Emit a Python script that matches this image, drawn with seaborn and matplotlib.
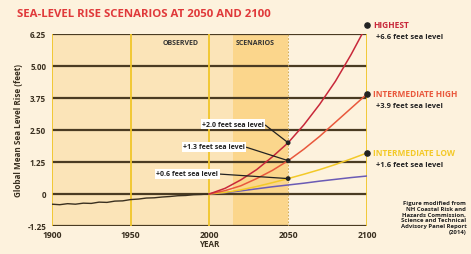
import matplotlib
matplotlib.use("Agg")
import matplotlib.pyplot as plt
import seaborn as sns

sns.set_theme(style="white")
plt.rcParams["font.family"] = ["Open Sans", "DejaVu Sans"]

# ── data
obs_year = [1900, 1905, 1910, 1915, 1920, 1925, 1930, 1935, 1940, 1945, 1950,
            1955, 1960, 1965, 1970, 1975, 1980, 1985, 1990, 1995, 2000]
obs_rise = [-0.40, -0.42, -0.38, -0.40, -0.36, -0.37, -0.32, -0.33, -0.28, -0.27, -0.22,
            -0.20, -0.16, -0.15, -0.12, -0.10, -0.07, -0.06, -0.03, -0.02, 0.00]

scn_year = [2000, 2010, 2020, 2030, 2040, 2050, 2060, 2070, 2080, 2090, 2100]
highest  = [0.00, 0.22, 0.55, 0.95, 1.45, 2.00, 2.70, 3.50, 4.40, 5.45, 6.60]
int_high = [0.00, 0.13, 0.32, 0.60, 0.92, 1.30, 1.75, 2.25, 2.80, 3.35, 3.90]
int_low  = [0.00, 0.06, 0.16, 0.29, 0.44, 0.60, 0.77, 0.95, 1.15, 1.37, 1.60]
lowest   = [0.00, 0.05, 0.12, 0.20, 0.28, 0.35, 0.42, 0.50, 0.57, 0.64, 0.70]

y_ticks = [-1.25, 0, 1.25, 2.50, 3.75, 5.00, 6.25]
y_tick_labels = ["-1.25", "0", "1.25", "2.50", "3.75", "5.00", "6.25"]
x_ticks = [1900, 1950, 2000, 2050, 2100]

mid_labels = ["+2.0 feet sea level", "+1.3 feet sea level", "+0.6 feet sea level"]
mid_values = [highest[5], int_high[5], int_low[5]]

end_names = ["HIGHEST", "INTERMEDIATE HIGH", "INTERMEDIATE LOW"]
end_texts = ["+6.6 feet sea level", "+3.9 feet sea level", "+1.6 feet sea level"]
end_values = [highest[-1], int_high[-1], int_low[-1]]

BG = "#fdf2dd"
RED = "#c8283a"
ORANGE = "#e9583c"
YELLOW = "#f3c928"
PURPLE = "#6b5bb5"
GRID = "#4a3b22"
VLINE = "#f0c52a"

fig = plt.figure(figsize=(4.71, 2.55), dpi=100, facecolor=BG)
ax = fig.add_axes([0.110, 0.110, 0.669, 0.753])
ax.set_facecolor(BG)
ax.set_xlim(1900, 2100)
ax.set_ylim(-1.25, 6.25)

# shading
ax.axvspan(1900, 2015, color="#fbe4b8", zorder=0, lw=0)
ax.axvspan(2015, 2050, color="#fbd68c", zorder=0, lw=0)

# grid
for v in y_ticks:
    ax.axhline(v, color=GRID, lw=1.6, zorder=1)
for v in [1900, 1950, 2000, 2100]:
    ax.axvline(v, color=VLINE, lw=1.3, zorder=1.5)
ax.axvline(2050, color="#c9a040", lw=0.6, ls=(0, (2, 2)), zorder=1.5)

# lines
sns.lineplot(x=obs_year, y=obs_rise, ax=ax, color="#3a3020", lw=1.0, zorder=3)
for vals, col in [(lowest, PURPLE), (int_low, YELLOW), (int_high, ORANGE), (highest, RED)]:
    sns.lineplot(x=scn_year, y=vals, ax=ax, color=col, lw=1.1, zorder=3)

# markers at 2050 and 2100
sns.scatterplot(x=[2050] * 3, y=mid_values, ax=ax, color="#222222", s=12, zorder=5,
                edgecolor="none")
ax.scatter([2100] * 3, end_values, color="#222222", s=14, zorder=5, clip_on=False)

# mid annotations
text_pos = [(2015, 2.73), (2003, 1.84), (1986, 0.78)]
for lab, val, (tx, ty) in zip(mid_labels, mid_values, text_pos):
    ax.annotate(lab, xy=(2050, val), xytext=(tx, ty), fontsize=5.0, fontweight="bold",
                color="#222222", ha="center", va="center", zorder=6,
                bbox=dict(boxstyle="square,pad=0.2", fc="white", ec="none"),
                arrowprops=dict(arrowstyle="-", color="#222222", lw=0.9,
                                shrinkA=0, shrinkB=0, relpos=(1, 0.5)))

# end labels
name_cols = [RED, ORANGE, YELLOW]
for name, txt, val, col in zip(end_names, end_texts, end_values, name_cols):
    ax.text(2104, val + 0.02, name, fontsize=6.0, fontweight="bold", color=col,
            ha="left", va="center", clip_on=False)
    ax.text(2106, val - 0.45, txt, fontsize=5.4, fontweight="bold", color="#222222",
            ha="left", va="center", clip_on=False)

ax.text(1982, 5.9, "OBSERVED", fontsize=5.0, fontweight="bold", color="#333333",
        ha="center", va="center")
ax.text(2029, 5.9, "SCENARIOS", fontsize=5.0, fontweight="bold", color="#333333",
        ha="center", va="center")

# axes
ax.set_yticks(y_ticks)
ax.set_yticklabels(y_tick_labels)
ax.set_xticks(x_ticks)
ax.tick_params(axis="y", length=3, width=0.8, color=GRID, labelsize=5.8, pad=1)
ax.tick_params(axis="x", length=0, labelsize=6.2, pad=3)
for t in ax.get_xticklabels() + ax.get_yticklabels():
    t.set_fontweight("bold")
    t.set_color("#3a3020")
for s in ax.spines.values():
    s.set_visible(False)
ax.set_xlabel("YEAR", fontsize=5.8, fontweight="bold", color="#3a3020", labelpad=0)
ax.set_ylabel("Global Mean Sea Level Rise (feet)", fontsize=5.9, fontweight="bold",
              color="#3a3020", labelpad=3)

fig.text(0.036, 0.945, "SEA-LEVEL RISE SCENARIOS AT 2050 AND 2100", fontsize=8.2,
         fontweight="bold", color="#e0393a", ha="left", va="center")

fig.text(0.99, 0.145, "Figure modified from\nNH Coastal Risk and\nHazards Commission,\n"
         "Science and Technical\nAdvisory Panel Report\n(2014)",
         fontsize=4.3, fontweight="bold", color="#222222", ha="right", va="center",
         linespacing=1.2)

fig.savefig("out.png", dpi=100, facecolor=BG)
